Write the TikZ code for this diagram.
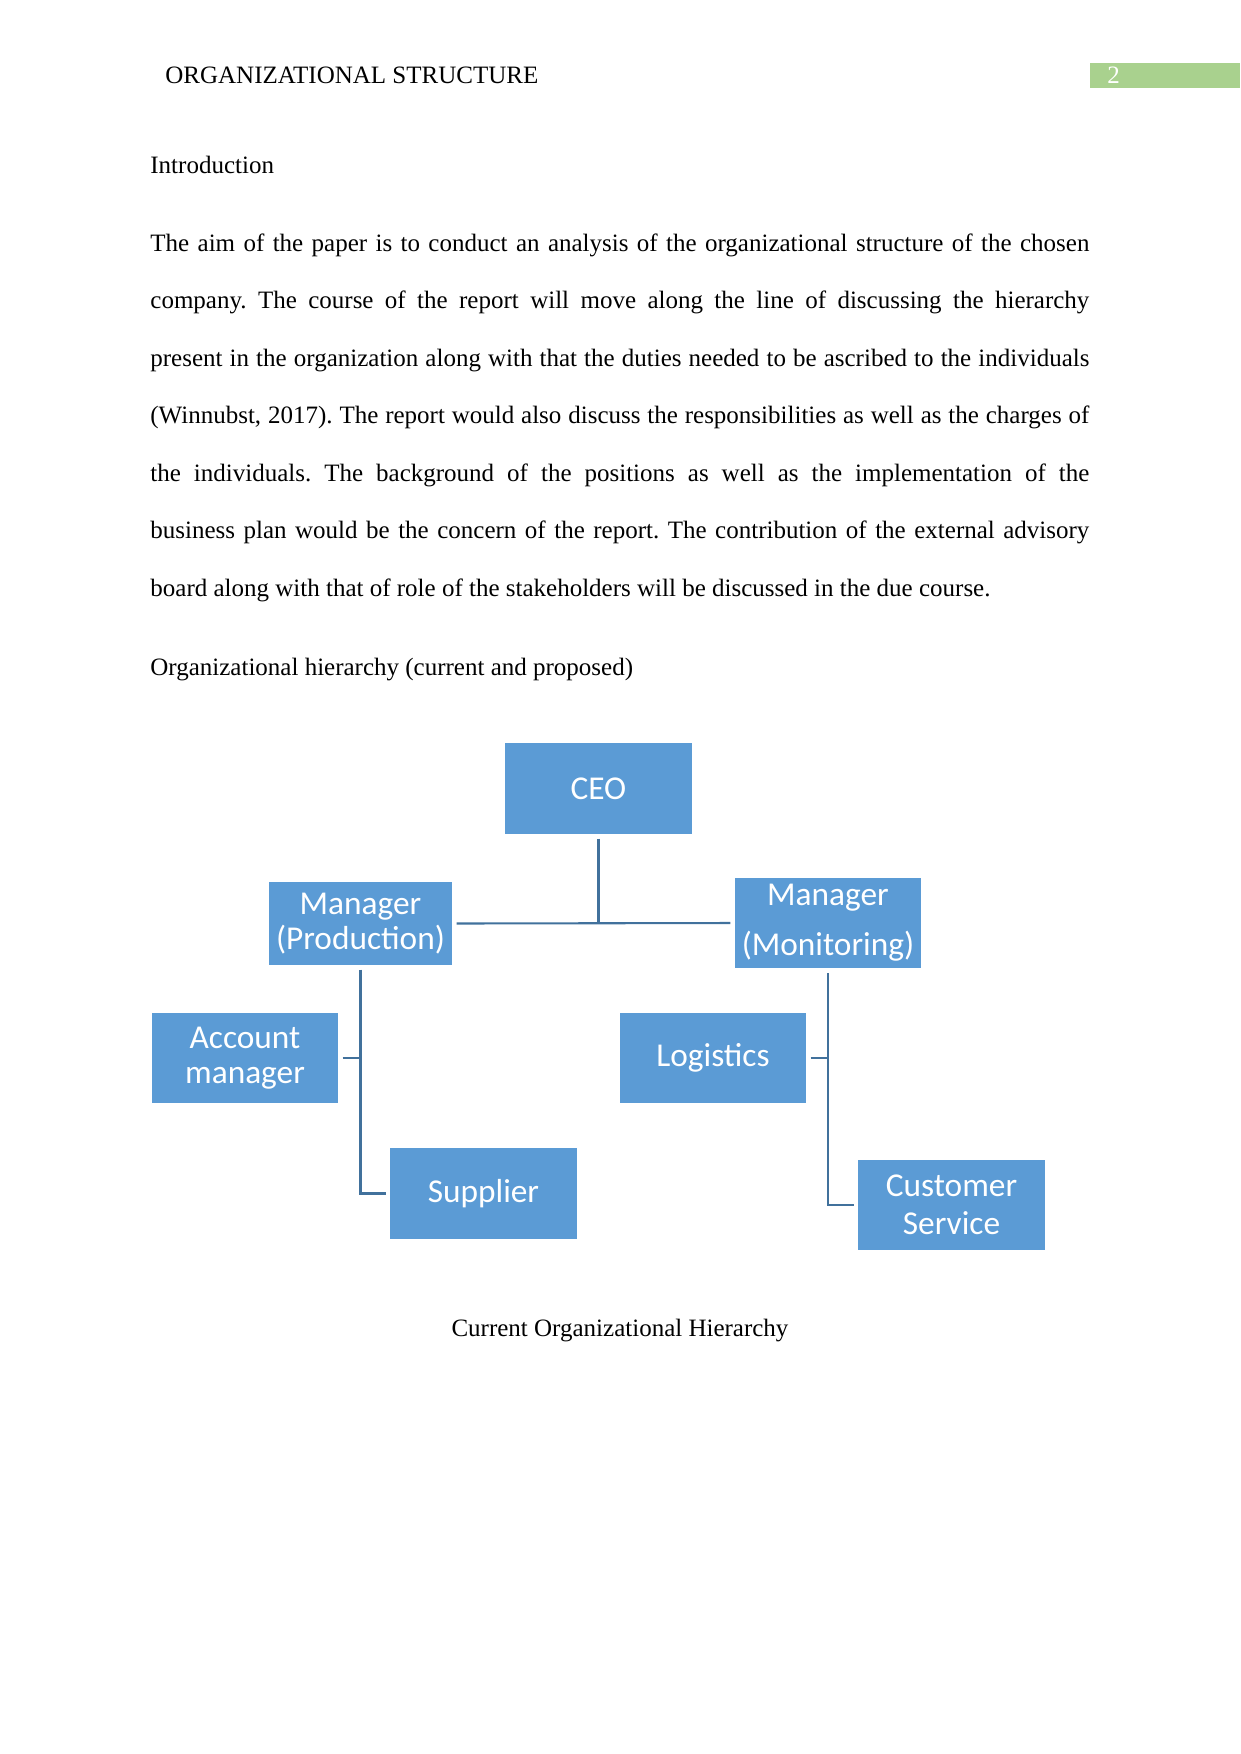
\documentclass[tikz,border=0pt]{standalone}
\usepackage{fontspec}
\setmainfont{Liberation Serif}
\newfontfamily\chartfont{Carlito}
\usepackage{xcolor}
\definecolor{boxblue}{HTML}{5B9BD5}
\definecolor{lineblue}{HTML}{41719C}
\definecolor{headgreen}{HTML}{A9D18E}
\frenchspacing

\begin{document}
\begin{tikzpicture}[
    x=0.48pt, y=-0.48pt,
    box/.style={rectangle, fill=boxblue, text=white, inner sep=0pt,
        minimum width=89.3pt, minimum height=43.6pt, align=center,
        font=\chartfont\fontsize{16}{18}\selectfont},
    link/.style={draw=lineblue, line width=1pt, shorten <=2pt, shorten >=2pt},
    txt/.style={anchor=base west, inner sep=0pt, font=\fontsize{12}{14}\selectfont}
]
\useasboundingbox (0,0) rectangle (1241,1754);

% running head
\node[txt] (head) at (165,83) {ORGANIZATIONAL STRUCTURE};
\fill[headgreen] (1090,63) rectangle (1240,88);
\node[txt, text=white] (page) at (1107,83) {2};

% text
\node[txt] (intro) at (150,173) {Introduction};
\node[txt] (l1) at (150,251) {\makebox[450.7pt][s]{The aim of the paper is to conduct an analysis of the organizational structure of the chosen}};
\node[txt] (l2) at (150,308.5) {\makebox[450.7pt][s]{company. The course of the report will move along the line of discussing the hierarchy}};
\node[txt] (l3) at (150,366) {\makebox[450.7pt][s]{present in the organization along with that the duties needed to be ascribed to the individuals}};
\node[txt] (l4) at (150,423.5) {\makebox[450.7pt][s]{(Winnubst, 2017). The report would also discuss the responsibilities as well as the charges of}};
\node[txt] (l5) at (150,481) {\makebox[450.7pt][s]{the individuals. The background of the positions as well as the implementation of the}};
\node[txt] (l6) at (150,538.5) {\makebox[450.7pt][s]{business plan would be the concern of the report. The contribution of the external advisory}};
\node[txt] (l7) at (150,596) {board along with that of role of the stakeholders will be discussed in the due course.};
\node[txt] (sub) at (150,675) {Organizational hierarchy (current and proposed)};

% chart
\node[box] (ceo) at (598.5,788.5) {CEO};
\node[box, minimum width=87.8pt, minimum height=39.8pt] (prod) at (360.5,923.5) {\raisebox{-1pt}{Manager}\\(Production)};
\node[box] (mon) at (828,923) {Manager\\[6pt](Monitoring)};
\node[box] (acct) at (245,1058) {\raisebox{-1pt}{Account}\\manager};
\node[box] (logi) at (713,1058) {Logistics};
\node[box] (sup) at (483.5,1193.5) {Supplier};
\node[box] (cust) at (951.5,1205) {Customer\\Service};

\draw[link, shorten >=0pt] (ceo.south) -- (ceo.south |- prod.east);
\draw[link] (prod.east) -- (mon.west);
\draw[link] (prod.south) |- (sup.west);
\draw[link, shorten >=0pt] (acct.east) -- (acct.east -| prod.south);
\draw[link] (mon.south) |- (cust.west);
\draw[link, shorten >=0pt] (logi.east) -- (logi.east -| mon.south);

\node[txt, anchor=base] (caption) at (620,1336) {Current Organizational Hierarchy};
\end{tikzpicture}
\end{document}
